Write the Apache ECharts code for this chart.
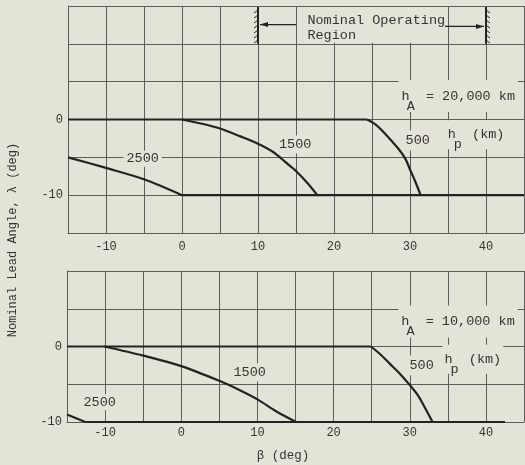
<!DOCTYPE html>
<html>
<head>
<meta charset="utf-8">
<script src="https://cdn.jsdelivr.net/npm/echarts@6/dist/echarts.min.js"></script>
<style>
  html, body { margin: 0; padding: 0; background: #e4e3d8; }
  #chart { width: 525px; height: 465px; }
</style>
</head>
<body>
<div id="chart"></div>
<script>
// Labelled ticks (grid lines are drawn every 5 deg)
const betaTicks = [-10, 0, 10, 20, 30, 40];
const lambdaTicks = [0, -10];

// Nominal operating region, beta (deg)
const operatingRegion = [10, 40];

// h_A = 20,000 km : lead angle lambda vs beta for each perigee altitude h_p
const hp500_20k = [[-15, 0], [24.35, 0], [25.65, -0.8], [27.2, -2.4], [28.5, -3.9], [29.4, -5.2], [30, -6.6], [30.65, -8.1], [31.4, -10]];
const hp1500_20k = [[0, 0], [2.8, -0.6], [5, -1.2], [7.6, -2.2], [10, -3.2], [12, -4.3], [13.7, -5.7], [15, -6.8], [16.5, -8.4], [17.8, -10]];
const hp2500_20k = [[-15, -5], [-10, -6.4], [-5, -7.9], [0, -10], [45, -10]];

// h_A = 10,000 km
const hp500_10k = [[-15, 0], [24.9, 0], [26.1, -1.0], [27.4, -2.3], [28.7, -3.6], [30, -5.1], [31.1, -6.5], [32.1, -8.3], [33, -10]];
const hp1500_10k = [[-10.1, 0], [-5, -1.2], [0, -2.6], [5, -4.55], [7.5, -5.7], [10, -7.0], [12.5, -8.6], [15.1, -10]];
const hp2500_10k = [[-15, -9], [-12.6, -10], [42.5, -10]];

const BG = '#e4e3d8';
const INK = '#232321';
const GRIDC = '#5e5d57';
const TXT = '#363531';
const MONO = '"Liberation Mono", "DejaVu Sans Mono", monospace';
const FS = 13.5;            // annotation font size
const CW = FS * 0.6;        // monospace advance

const chart = echarts.init(document.getElementById('chart'), null, { renderer: 'canvas' });

function xAxis(gridIndex, margin) {
  return {
    type: 'value', gridIndex, min: -15, max: 45, interval: 5,
    axisLine: { show: true, onZero: false, lineStyle: { color: GRIDC, width: 1 } },
    axisTick: { show: false },
    splitLine: { show: true, showMinLine: true, showMaxLine: true, lineStyle: { color: GRIDC, width: 1 } },
    axisLabel: {
      formatter: v => (betaTicks.includes(v) ? String(v) : ''),
      color: TXT, fontFamily: MONO, fontSize: 12, margin
    }
  };
}
function yAxis(gridIndex, min, max) {
  return {
    type: 'value', gridIndex, min, max, interval: 5,
    axisLine: { show: true, onZero: false, lineStyle: { color: GRIDC, width: 1 } },
    axisTick: { show: false },
    splitLine: { show: true, showMinLine: true, showMaxLine: true, lineStyle: { color: GRIDC, width: 1 } },
    axisLabel: {
      formatter: v => (lambdaTicks.includes(v) ? String(v) : ''),
      color: TXT, fontFamily: MONO, fontSize: 12, margin: 5
    }
  };
}
// A curve is drawn as straight runs where lambda is held constant (0 or -10)
// and as a smoothed run through the sloping part between them.
function curveSeries(data, idx) {
  const out = [];
  const base = {
    type: 'line', xAxisIndex: idx, yAxisIndex: idx, symbol: 'none',
    z: 3, silent: true, lineStyle: { color: INK, width: 2.2 }
  };
  let i = 0;
  while (i < data.length - 1) {
    const flat = data[i][1] === data[i + 1][1];
    let j = i + 1;
    while (j < data.length - 1 && (data[j][1] === data[j + 1][1]) === flat) j++;
    out.push(Object.assign({}, base, { data: data.slice(i, j + 1), smooth: flat ? false : 0.3 }));
    i = j;
  }
  return out;
}

chart.setOption({
  backgroundColor: BG,
  animation: false,
  grid: [
    { left: 68, right: 1, top: 6, height: 227, outerBoundsMode: 'none' },
    { left: 67, right: 1, top: 271, height: 151, outerBoundsMode: 'none' }
  ],
  xAxis: [xAxis(0, 8), xAxis(1, 5)],
  yAxis: [yAxis(0, -15, 15), yAxis(1, -10, 10)],
  series: [].concat(
    curveSeries(hp500_20k, 0), curveSeries(hp1500_20k, 0), curveSeries(hp2500_20k, 0),
    curveSeries(hp500_10k, 1), curveSeries(hp1500_10k, 1), curveSeries(hp2500_10k, 1)
  )
});

const px = (g, x, y) => chart.convertToPixel({ gridIndex: g }, [x, y]);

function textStyle(str, extra) {
  return Object.assign({
    text: str, fill: TXT, fontFamily: MONO, fontSize: FS,
    align: 'left', verticalAlign: 'middle'
  }, extra || {});
}
// text at a data position; an optional padded background breaks the grid behind it
function text(g, x, y, str, pad) {
  const [X, Y] = px(g, x, y);
  const extra = pad ? { backgroundColor: BG, padding: pad } : {};
  return { type: 'text', x: X, y: Y, z: 20, silent: true, style: textStyle(str, extra) };
}
// main string whose second character slot carries a dropped subscript letter
function subText(g, x, y, main, sub, pad) {
  const [X, Y] = px(g, x, y);
  return [
    text(g, x, y, main, pad),
    { type: 'text', x: X + CW, y: Y + 10, z: 21, silent: true, style: textStyle(sub) }
  ];
}

const g = [];

// blank band behind the operating-region caption
{
  const [x0, y0] = px(0, 15, 15);
  const [x1, y1] = px(0, 35, 10);
  g.push({ type: 'rect', z: 1, silent: true, shape: { x: x0 + 1, y: y0 + 1, width: x1 - x0 - 2, height: y1 - y0 - 2 }, style: { fill: BG } });
}

// hatched limit lines of the operating region
operatingRegion.forEach((b, i) => {
  const [X, Yt] = px(0, b, 15);
  const Yb = px(0, b, 10)[1];
  g.push({ type: 'line', z: 6, silent: true, shape: { x1: X, y1: Yt + 1, x2: X, y2: Yb }, style: { stroke: INK, lineWidth: 2 } });
  const dir = i === 0 ? -1 : 1;
  for (let y = Yt + 4; y < Yb - 1; y += 5) {
    g.push({ type: 'line', z: 6, silent: true, shape: { x1: X, y1: y, x2: X + dir * 4, y2: y + 3 }, style: { stroke: INK, lineWidth: 1 } });
  }
});

// arrows from the caption to each limit
{
  const [xa, ya] = px(0, 15, 12.55);
  const [xl] = px(0, operatingRegion[0], 12.55);
  g.push({ type: 'line', z: 6, silent: true, shape: { x1: xa, y1: ya, x2: xl + 2, y2: ya }, style: { stroke: INK, lineWidth: 1.3 } });
  g.push({ type: 'polygon', z: 6, silent: true, shape: { points: [[xl + 2, ya], [xl + 10, ya - 2.5], [xl + 10, ya + 2.5]] }, style: { fill: INK } });

  const [xb, yb] = px(0, 34.6, 12.3);
  const [xr] = px(0, operatingRegion[1], 12.3);
  g.push({ type: 'line', z: 6, silent: true, shape: { x1: xb, y1: yb, x2: xr - 2, y2: yb }, style: { stroke: INK, lineWidth: 1.3 } });
  g.push({ type: 'polygon', z: 6, silent: true, shape: { points: [[xr - 2, yb], [xr - 10, yb - 2.5], [xr - 10, yb + 2.5]] }, style: { fill: INK } });
}

g.push(text(0, 16.5, 13.1, 'Nominal Operating'));
g.push(text(0, 16.5, 11.1, 'Region'));

// top panel labels
g.push(...subText(0, 28.5, 3.1, 'h  = 20,000 km', 'A', [4, 3, 14, 3]));
g.push(...subText(0, 34.7, -2.0, 'h  (km)', 'p', [3, 2, 12, 2]));
g.push(text(0, 29.15, -2.75, '500', [3, 2, 3, 2]));
g.push(text(0, 12.5, -3.3, '1500', [2, 2, 2, 2]));
g.push(text(0, -7.7, -5.2, '2500', [1, 3, 1, 3]));

// bottom panel labels
g.push(...subText(1, 28.5, 3.3, 'h  = 10,000 km', 'A', [4, 3, 14, 3]));
g.push(...subText(1, 34.3, -1.7, 'h  (km)', 'p', [3, 2, 12, 2]));
g.push(text(1, 29.7, -2.5, '500', [3, 2, 3, 2]));
g.push(text(1, 6.6, -3.45, '1500', [2, 2, 2, 2]));
g.push(text(1, -13.1, -7.4, '2500', [1, 2, 1, 2]));

// axis titles
g.push({ type: 'text', x: 13, y: 240, rotation: Math.PI / 2, z: 20, silent: true,
  style: textStyle('Nominal Lead Angle, \u03bb (deg)', { fontSize: 12, align: 'center' }) });
g.push({ type: 'text', x: 283, y: 456, z: 20, silent: true,
  style: textStyle('\u03b2 (deg)', { fontSize: 12.5, align: 'center' }) });

chart.setOption({ graphic: { elements: g } });
</script>
</body>
</html>
